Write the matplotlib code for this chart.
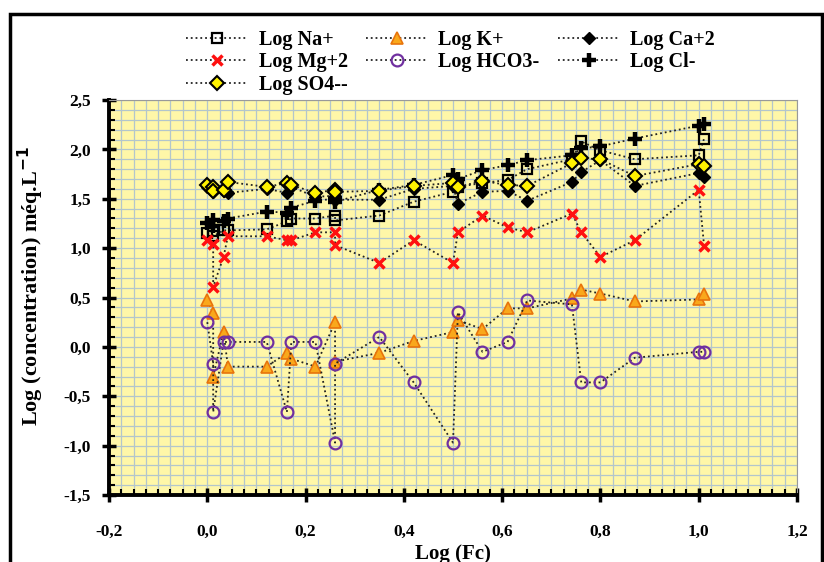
import matplotlib
matplotlib.use("Agg")
import matplotlib.pyplot as plt
from matplotlib.ticker import MultipleLocator, FuncFormatter
from matplotlib.patches import Rectangle

# ---- data ----
log_fc = [0.000, 0.012, 0.012, 0.033, 0.042, 0.121, 0.162, 0.171, 0.220, 0.260, 0.260, 0.350,
          0.420, 0.500, 0.510, 0.560, 0.611, 0.651, 0.742, 0.761, 0.800, 0.870, 1.000, 1.011]
log_na = [1.15, 1.17, 1.12, 1.18, 1.18, 1.19, 1.27, 1.30, 1.30, 1.33, 1.28, 1.33,
          1.47, 1.57, 1.62, 1.66, 1.69, 1.80, 1.90, 2.08, 1.99, 1.90, 1.94, 2.11]
log_k = [0.47, 0.34, -0.30, 0.15, -0.20, -0.20, -0.06, -0.12, -0.20, 0.25, -0.15, -0.06,
         0.06, 0.15, 0.27, 0.18, 0.39, 0.39, 0.49, 0.58, 0.54, 0.46, 0.48, 0.54]
log_ca = [1.62, 1.60, 1.57, 1.58, 1.56, 1.60, 1.56, 1.62, 1.52, 1.53, 1.49, 1.49,
          1.60, 1.63, 1.45, 1.57, 1.58, 1.48, 1.67, 1.77, 1.89, 1.63, 1.76, 1.72]
log_mg = [1.08, 1.04, 0.61, 0.91, 1.12, 1.12, 1.08, 1.08, 1.16, 1.16, 1.03, 0.85,
          1.08, 0.85, 1.16, 1.33, 1.21, 1.16, 1.35, 1.16, 0.91, 1.08, 1.59, 1.02]
log_hco3 = [0.25, -0.17, -0.66, 0.05, 0.05, 0.05, -0.66, 0.05, 0.05, -0.97, -0.17, 0.10,
            -0.36, -0.97, 0.35, -0.05, 0.05, 0.47, 0.43, -0.36, -0.36, -0.11, -0.05, -0.05]
log_cl = [1.25, 1.22, 1.28, 1.27, 1.30, 1.37, 1.36, 1.41, 1.48, 1.50, 1.47, 1.59,
          1.64, 1.74, 1.70, 1.79, 1.84, 1.89, 1.94, 2.01, 2.03, 2.11, 2.24, 2.26]
log_so4 = [1.64, 1.62, 1.58, 1.59, 1.67, 1.62, 1.66, 1.64, 1.56, 1.59, 1.57, 1.58,
           1.63, 1.66, 1.62, 1.68, 1.64, 1.63, 1.86, 1.91, 1.90, 1.73, 1.85, 1.83]

labels = ["Log Na+", "Log K+", "Log Ca+2", "Log Mg+2", "Log HCO3-", "Log Cl-", "Log SO4--"]
x_ticks = [-0.2, 0.0, 0.2, 0.4, 0.6, 0.8, 1.0, 1.2]
y_ticks = [-1.5, -1.0, -0.5, 0.0, 0.5, 1.0, 1.5, 2.0, 2.5]

plt.rcParams['font.family'] = ['Liberation Serif', 'DejaVu Serif']
plt.rcParams['font.weight'] = 'bold'
plt.rcParams['mathtext.default'] = 'bf'

fig = plt.figure(figsize=(8.24, 5.62), dpi=100)
ax = fig.add_axes([109/824, 1-495/562, (797-109)/824, (495-100)/562])
ax.set_facecolor('#FFF7A8')

ax.set_xlim(-0.2, 1.2)
ax.set_ylim(-1.5, 2.5)

# grid
ax.xaxis.set_minor_locator(MultipleLocator(0.025))
ax.yaxis.set_minor_locator(MultipleLocator(0.1))
ax.set_xticks(x_ticks)
ax.set_yticks(y_ticks)
ax.grid(True, which='both', color='#B3C6CC', linewidth=0.9)
ax.set_axisbelow(True)

ls = dict(linestyle=':', color='#222222', linewidth=1.3)
series = [
    (log_na, dict(marker='s', markersize=7.5, markerfacecolor='none', markeredgecolor='black', markeredgewidth=1.6)),
    (log_k, dict(marker='^', markersize=9, markerfacecolor='#F9A81B', markeredgecolor='#E8740C', markeredgewidth=1.2)),
    (log_ca, dict(marker='D', markersize=6.5, markerfacecolor='black', markeredgecolor='black', markeredgewidth=1)),
    (log_mg, dict(marker='x', markersize=7, markerfacecolor='red', markeredgecolor='#FF1010', markeredgewidth=2.5)),
    (log_hco3, dict(marker='o', markersize=8.5, markerfacecolor='none', markeredgecolor='#7030A0', markeredgewidth=1.6)),
    (log_cl, dict(marker='+', markersize=10, markeredgecolor='black', markeredgewidth=3.2)),
    (log_so4, dict(marker='D', markersize=7.5, markerfacecolor='#FFF200', markeredgecolor='black', markeredgewidth=1.5)),
]
handles = []
for (vals, mk), lab in zip(series, labels):
    h, = ax.plot(log_fc, vals, label=lab, **ls, **mk, zorder=3)
    handles.append(h)

fmt = FuncFormatter(lambda v, p: f"{v:.1f}".replace('.', ','))
ax.xaxis.set_major_formatter(fmt)
ax.yaxis.set_major_formatter(fmt)

for lab in ax.get_xticklabels() + ax.get_yticklabels():
    lab.set_fontweight('bold')
    lab.set_fontsize(12.5)

ax.tick_params(axis='both', which='major', direction='inout', length=10, width=2.5, color='black')
ax.tick_params(axis='both', which='minor', direction='in', length=4, width=1.5, color='black')
ax.tick_params(axis='x', which='major', pad=16)
ax.tick_params(axis='y', which='major', pad=8)
ax.tick_params(top=False, right=False, which='both')

for s in ['left', 'bottom']:
    ax.spines[s].set_linewidth(2.8)
    ax.spines[s].set_color('black')
for s in ['top', 'right']:
    ax.spines[s].set_linewidth(0.8)
    ax.spines[s].set_color('#999999')

ax.set_xlabel("Log (Fc)", fontsize=15, fontweight='bold')
ax.xaxis.set_label_coords(0.5, -0.125)
ax.set_ylabel(r"Log (concentration) méq.L$^{-1}$", fontsize=16, fontweight='bold')
ax.yaxis.set_label_coords(-0.092, 0.53)

# legend: rows ordered across columns
order = [0, 3, 6, 1, 4, 2, 5]
leg = fig.legend([handles[i] for i in order], [labels[i] for i in order], ncol=3,
                 loc='upper left', bbox_to_anchor=(178/824, 1-22/562), frameon=False,
                 fontsize=14.5, handlelength=3.1, columnspacing=0.9, labelspacing=0.12,
                 handletextpad=0.5, borderaxespad=0)
for t in leg.get_texts():
    t.set_fontweight('bold')

# figure border
fig.add_artist(Rectangle((10/824, -0.05), (822-10)/824, 1.05-14/562, transform=fig.transFigure,
                         fill=False, edgecolor='black', linewidth=2.5))

fig.savefig("out.png", dpi=100)
